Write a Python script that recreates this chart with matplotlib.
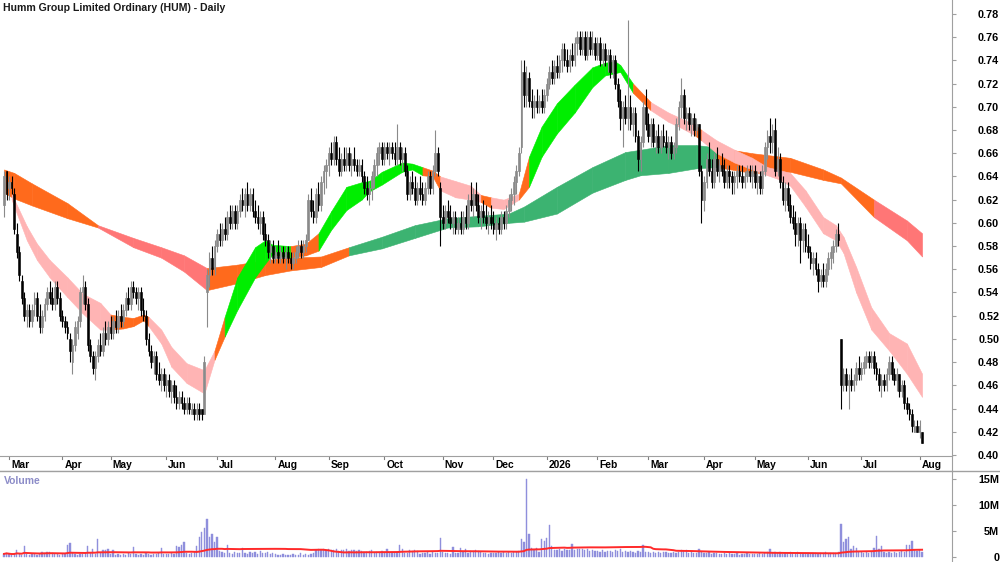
import numpy as np
import pandas as pd
import matplotlib
matplotlib.use("Agg")
import matplotlib.pyplot as plt
from matplotlib.lines import Line2D

plt.rcParams['font.family'] = ['Liberation Sans', 'DejaVu Sans']

title = "Humm Group Limited Ordinary (HUM) - Daily"

# trading days (ASX holidays removed)
holidays = ["2025-04-18", "2025-04-21", "2025-04-25", "2025-06-09", "2025-12-25",
            "2025-12-26", "2026-01-01", "2026-01-26", "2026-04-03", "2026-04-06",
            "2026-06-08"]
dates = pd.bdate_range("2025-02-27", "2026-08-04", freq="C", holidays=holidays)

# daily prices in tenths of a cent (645 = $0.645), one line per month
opens = [
    615, 645,
    630, 635, 625, 590, 575, 550, 535, 520, 525, 515, 530, 535, 520, 510, 520, 530, 540, 535, 530, 545, 535,
    520, 515, 510, 500, 480, 495, 505, 515, 540, 545, 530, 495, 485, 475, 485, 495, 490, 505, 500,
    510, 505, 515, 510, 520, 515, 525, 535, 530, 545, 540, 535, 540, 525, 520, 500, 490, 480, 485, 470, 465, 470,
    460, 465, 455, 460, 450, 445, 450, 445, 440, 445, 435, 440, 435, 440, 440, 435, 540, 555, 570, 560,
    580, 590, 585, 595, 590, 605, 600, 610, 600, 610, 620, 615, 625, 615, 625, 610, 605, 600, 605, 590, 585, 575, 580,
    570, 575, 570, 575, 570, 575, 570, 565, 570, 575, 580, 575, 580, 585, 620, 610, 605, 625, 615, 635, 645,
    650, 660, 655, 670, 655, 645, 655, 650, 660, 650, 655, 650, 645, 650, 640, 630, 625, 630, 640, 650, 660, 665,
    655, 665, 660, 665, 660, 655, 665, 655, 660, 645, 625, 635, 630, 620, 630, 625, 620, 630, 640, 630, 645, 660, 630,
    605, 600, 610, 605, 600, 605, 595, 600, 595, 605, 600, 620, 615, 625, 615, 605, 610, 605, 600, 605,
    600, 595, 600, 595, 605, 600, 610, 620, 625, 635, 645, 665, 730, 710, 725, 705, 700, 705, 700, 705, 700,
    710, 720, 730, 725, 735, 730, 740, 750, 740, 735, 745, 740, 755, 760, 750, 760, 745, 760, 750, 755,
    745, 755, 740, 750, 740, 745, 730, 740, 720, 705, 690, 700, 690, 700, 685, 695, 675, 655, 670, 700,
    685, 675, 685, 670, 675, 665, 675, 670, 665, 670, 660, 665, 685, 700, 710, 690, 695, 685, 690, 680, 685, 645,
    620, 635, 655, 645, 635, 655, 645, 650, 645, 635, 645, 640, 635, 640, 645, 640, 635, 640, 645, 640,
    645, 635, 640, 630, 645, 665, 675, 670, 680, 645, 655, 635, 620, 630, 615, 605, 600, 590, 600, 585, 595,
    580, 575, 565, 570, 560, 550, 555, 550, 560, 570, 575, 580, 590, 500, 460, 470, 460, 465, 460, 465, 475,
    470, 475, 480, 485, 480, 485, 475, 470, 460, 465, 460, 470, 480, 470, 465, 470, 455, 460, 445, 440, 435, 420, 425,
    420, 420,
]
highs = [
    645, 645,
    640, 640, 630, 600, 580, 555, 540, 530, 530, 530, 540, 540, 530, 525, 535, 545, 550, 545, 550, 550, 540,
    525, 520, 515, 505, 500, 515, 520, 545, 555, 550, 535, 500, 490, 490, 500, 505, 510, 515, 515,
    520, 520, 525, 525, 530, 530, 540, 545, 550, 550, 545, 545, 545, 535, 525, 505, 495, 490, 490, 480, 475, 475,
    470, 470, 465, 465, 460, 455, 455, 450, 450, 450, 445, 445, 445, 445, 440, 485, 560, 575, 580, 585,
    595, 600, 600, 605, 610, 615, 615, 615, 615, 625, 630, 630, 635, 630, 630, 620, 615, 610, 610, 600, 590, 585, 585,
    580, 585, 580, 580, 580, 580, 575, 575, 580, 585, 585, 585, 590, 625, 630, 620, 630, 635, 640, 650, 655,
    665, 670, 675, 675, 665, 660, 665, 665, 665, 660, 665, 655, 655, 655, 645, 640, 635, 645, 655, 665, 670, 670,
    670, 670, 670, 670, 670, 685, 670, 665, 665, 650, 640, 645, 640, 635, 640, 635, 635, 645, 645, 650, 680, 665, 635,
    615, 615, 620, 615, 610, 610, 605, 610, 610, 615, 625, 635, 630, 635, 625, 615, 620, 615, 610, 615,
    610, 605, 605, 610, 610, 615, 625, 630, 640, 650, 665, 740, 740, 735, 730, 715, 710, 715, 710, 715, 715,
    725, 735, 740, 740, 745, 745, 755, 755, 750, 750, 755, 760, 765, 765, 765, 765, 765, 765, 765, 760,
    760, 760, 755, 755, 750, 750, 745, 745, 725, 715, 705, 710, 775, 710, 700, 700, 680, 675, 705, 715,
    695, 690, 690, 680, 685, 680, 685, 680, 675, 675, 670, 690, 705, 725, 715, 700, 700, 695, 695, 690, 685, 650,
    640, 660, 670, 655, 660, 665, 655, 660, 655, 650, 650, 645, 645, 650, 650, 650, 645, 650, 650, 650,
    650, 645, 645, 650, 670, 680, 690, 685, 690, 665, 660, 640, 635, 635, 625, 615, 610, 605, 605, 600, 600,
    590, 580, 575, 575, 565, 560, 565, 565, 575, 580, 585, 595, 600, 500, 475, 475, 470, 475, 470, 480, 485,
    480, 485, 490, 490, 490, 490, 480, 475, 470, 470, 475, 485, 485, 475, 475, 470, 465, 465, 450, 445, 440, 430, 430,
    430, 420,
]
lows = [
    605, 620,
    620, 625, 590, 570, 550, 530, 515, 510, 510, 510, 520, 515, 505, 505, 515, 525, 530, 525, 525, 530, 515,
    510, 505, 500, 480, 470, 490, 500, 510, 530, 525, 490, 480, 470, 465, 480, 485, 485, 495, 495,
    500, 500, 505, 505, 510, 510, 520, 525, 525, 535, 530, 525, 520, 515, 495, 485, 475, 470, 465, 460, 455, 455,
    450, 450, 445, 445, 440, 440, 440, 435, 435, 435, 435, 430, 430, 430, 430, 435, 510, 545, 555, 555,
    575, 580, 580, 585, 585, 595, 595, 595, 595, 605, 610, 605, 610, 610, 605, 600, 595, 590, 585, 580, 570, 565, 565,
    565, 565, 565, 565, 560, 565, 560, 560, 565, 570, 570, 570, 575, 585, 605, 600, 600, 610, 610, 625, 630,
    640, 650, 650, 650, 640, 640, 645, 645, 645, 640, 645, 640, 640, 635, 625, 620, 615, 620, 630, 640, 650, 650,
    650, 655, 650, 655, 650, 650, 650, 645, 640, 620, 620, 625, 615, 615, 620, 615, 615, 625, 625, 625, 640, 640, 580,
    595, 595, 600, 595, 590, 590, 590, 590, 590, 595, 595, 610, 605, 610, 600, 595, 600, 595, 590, 595,
    590, 585, 590, 590, 595, 595, 605, 610, 615, 625, 640, 660, 700, 700, 700, 690, 690, 695, 695, 695, 695,
    705, 715, 720, 720, 725, 725, 730, 735, 730, 730, 735, 735, 745, 745, 745, 740, 740, 745, 745, 740,
    740, 735, 735, 735, 730, 725, 725, 715, 700, 680, 665, 685, 680, 680, 675, 670, 645, 645, 665, 680,
    670, 665, 665, 660, 660, 660, 665, 660, 655, 655, 655, 660, 680, 690, 685, 680, 680, 675, 675, 675, 640, 600,
    610, 630, 640, 630, 630, 640, 635, 640, 630, 630, 630, 625, 625, 630, 635, 630, 630, 635, 635, 630,
    630, 625, 625, 625, 640, 655, 660, 660, 640, 640, 630, 615, 610, 610, 600, 595, 580, 580, 565, 575, 575,
    570, 560, 555, 555, 540, 545, 545, 545, 555, 560, 565, 575, 580, 440, 455, 455, 440, 455, 455, 460, 465,
    465, 470, 475, 475, 475, 470, 465, 455, 450, 455, 455, 465, 465, 460, 455, 450, 450, 440, 435, 430, 420, 420, 420,
    415, 410,
]
closes = [
    640, 625,
    635, 630, 595, 575, 555, 535, 520, 525, 515, 525, 535, 520, 510, 520, 530, 540, 535, 530, 545, 535, 520,
    515, 510, 505, 490, 495, 510, 515, 540, 545, 530, 495, 485, 475, 485, 495, 490, 505, 500, 510,
    505, 515, 510, 520, 515, 525, 535, 530, 545, 540, 535, 540, 525, 520, 500, 490, 480, 485, 470, 465, 470, 460,
    465, 455, 460, 450, 445, 450, 445, 440, 445, 440, 440, 435, 440, 435, 435, 480, 555, 570, 560, 580,
    590, 585, 595, 590, 605, 600, 610, 600, 610, 620, 615, 625, 615, 625, 610, 605, 600, 605, 590, 585, 575, 580, 570,
    575, 570, 575, 570, 575, 570, 565, 570, 575, 580, 575, 580, 585, 620, 610, 605, 625, 615, 635, 645, 650,
    660, 655, 670, 655, 645, 655, 650, 660, 650, 655, 650, 645, 650, 640, 630, 625, 630, 640, 650, 660, 665, 655,
    665, 660, 665, 660, 655, 665, 655, 660, 645, 625, 635, 630, 620, 630, 625, 620, 630, 640, 630, 645, 660, 645, 605,
    600, 610, 605, 600, 605, 595, 600, 595, 605, 600, 620, 615, 625, 615, 605, 610, 605, 600, 605, 600,
    595, 600, 595, 605, 600, 610, 620, 625, 635, 645, 660, 730, 710, 725, 705, 700, 705, 700, 705, 700, 710,
    720, 730, 725, 735, 730, 740, 750, 740, 735, 745, 740, 755, 760, 750, 760, 745, 760, 750, 755, 745,
    755, 740, 750, 740, 745, 730, 740, 720, 705, 690, 700, 690, 700, 685, 695, 675, 655, 670, 700, 685,
    675, 685, 670, 675, 665, 675, 670, 665, 670, 660, 665, 685, 700, 710, 690, 695, 685, 690, 680, 685, 645, 620,
    635, 655, 645, 635, 655, 645, 650, 645, 635, 645, 640, 635, 640, 645, 640, 635, 640, 645, 640, 645,
    635, 640, 630, 645, 665, 675, 670, 680, 645, 655, 635, 620, 630, 615, 605, 600, 590, 600, 585, 595, 580,
    575, 565, 570, 560, 550, 555, 550, 560, 570, 575, 580, 590, 585, 460, 470, 460, 465, 460, 465, 475, 470,
    475, 480, 485, 480, 485, 475, 470, 460, 465, 460, 470, 480, 470, 465, 470, 455, 460, 445, 440, 435, 425, 425, 420,
    425, 410,
]
# daily volume in units of 100,000 shares
volume = [
    6, 8,
    5, 4, 6, 13, 5, 4, 21, 5, 4, 6, 5, 4, 6, 10, 8, 10, 9, 8, 5, 6, 4,
    5, 6, 23, 27, 7, 5, 4, 6, 5, 7, 22, 8, 15, 6, 34, 7, 13, 14, 16,
    5, 13, 4, 6, 4, 5, 4, 7, 6, 20, 5, 4, 6, 4, 7, 5, 4, 6, 5, 7, 18, 6,
    6, 5, 7, 6, 21, 20, 23, 29, 7, 6, 8, 10, 21, 38, 49, 55, 73, 38, 44, 29,
    39, 11, 9, 8, 23, 7, 6, 9, 8, 7, 18, 8, 6, 10, 7, 9, 6, 11, 8, 7, 9, 6, 8,
    5, 4, 3, 5, 4, 3, 4, 5, 3, 4, 8, 4, 5, 3, 6, 8, 14, 15, 13, 15, 14,
    15, 13, 14, 15, 12, 14, 13, 15, 12, 13, 14, 11, 13, 12, 10, 9, 11, 13, 8, 10, 9, 11,
    9, 16, 8, 10, 7, 9, 23, 16, 8, 7, 13, 12, 13, 11, 6, 8, 7, 9, 6, 10, 8, 7, 36,
    9, 7, 8, 6, 20, 8, 7, 18, 9, 15, 8, 12, 11, 13, 12, 9, 7, 8, 6, 7,
    8, 7, 9, 8, 10, 7, 9, 8, 10, 9, 11, 35, 29, 150, 44, 18, 13, 18, 10, 34, 31,
    36, 61, 21, 14, 13, 15, 12, 16, 13, 14, 25, 13, 16, 15, 16, 14, 16, 12, 13, 11,
    12, 10, 13, 9, 11, 12, 10, 13, 11, 16, 10, 12, 9, 11, 10, 8, 12, 9, 23, 10,
    9, 8, 10, 7, 9, 8, 10, 9, 7, 8, 9, 8, 10, 13, 12, 13, 8, 9, 7, 8, 15, 9,
    8, 7, 9, 6, 8, 7, 5, 6, 8, 5, 7, 6, 5, 7, 4, 6, 5, 7, 6, 5,
    6, 5, 7, 6, 8, 9, 16, 8, 10, 7, 10, 6, 8, 7, 9, 8, 7, 9, 8, 6, 7,
    7, 6, 8, 7, 6, 8, 7, 9, 6, 8, 7, 8, 10, 63, 29, 34, 39, 15, 21, 18, 10,
    9, 8, 10, 7, 9, 18, 40, 16, 21, 9, 8, 10, 7, 9, 8, 10, 12, 9, 23, 23, 31, 13, 12,
    13, 9,
]

# short-term ribbon edges (bar index, upper, lower) and state per stretch
fast_x = [3, 9, 13, 18, 25, 31, 38, 42, 47, 51, 55, 57, 62, 66, 72, 79, 83, 87, 92, 99,
          103, 106, 113, 119, 124, 129, 135, 141, 144, 149, 157, 161, 165, 169, 172, 178, 184, 188, 192, 197,
          203, 207, 212, 218, 225, 232, 237, 241, 243, 248, 255, 262, 266, 272, 275, 281, 288, 295, 301, 305,
          310, 316, 323, 328, 331, 336, 342, 349, 356, 362]
fast_hi = [625, 597, 582, 568, 553, 539, 531, 521, 519, 518, 521, 519, 508, 493, 479, 473, 490, 519, 553, 579,
           585, 581, 580, 582, 591, 610, 631, 635, 636, 644, 652, 651, 648, 645, 640, 636, 632, 624, 622, 620,
           625, 657, 683, 703, 719, 734, 738, 739, 736, 720, 704, 695, 691, 685, 680, 671, 663, 656, 648, 646,
           643, 628, 605, 598, 588, 562, 527, 505, 496, 470]
fast_lo = [620, 585, 568, 553, 536, 522, 508, 508, 509, 511, 516, 511, 496, 476, 462, 453, 482, 502, 525, 553,
           565, 573, 570, 572, 576, 594, 611, 620, 627, 633, 644, 646, 641, 640, 628, 622, 620, 618, 613, 612,
           620, 631, 657, 677, 695, 717, 727, 729, 730, 712, 697, 687, 683, 676, 671, 660, 652, 646, 641, 638,
           632, 614, 591, 585, 574, 540, 508, 490, 470, 450]
fast_state = list("pppppppoooopppppogggggooggggggggoopppoppoggggggggopppopppppppppppppppp")

# long-term ribbon
slow_x = [0, 4, 11, 25, 37, 51, 62, 71, 80, 92, 103, 113, 125, 136, 149, 162, 175, 187, 199, 205,
          218, 232, 245, 251, 262, 273, 281, 295, 310, 323, 330, 343, 356, 362]
slow_hi = [646, 643, 634, 617, 598, 587, 579, 572, 561, 564, 568, 570, 571, 579, 588, 598, 604, 606, 608, 614,
           631, 648, 661, 663, 667, 667, 665, 660, 656, 646, 639, 620, 602, 591]
slow_lo = [626, 621, 615, 604, 596, 579, 570, 558, 542, 548, 555, 559, 562, 572, 578, 587, 596, 597, 600, 601,
           608, 626, 637, 641, 643, 647, 648, 643, 644, 637, 634, 605, 585, 571]
slow_state = list("oooorrrrooooodddddddddddddooooorrr")[:33]

state_colors = {"p": "#ffb4b4", "o": "#ff6a1c", "g": "#00ee00", "d": "#3cb371", "r": "#ff7676"}

n = len(closes)
for name, arr in [("opens", opens), ("highs", highs), ("lows", lows), ("volume", volume)]:
    if len(arr) != n:
        raise SystemExit(f"{name} has {len(arr)} values, closes has {n}")
if len(dates) != n:
    raise SystemExit(f"dates {len(dates)} vs bars {n}")

o = np.array(opens) / 1000
h = np.array(highs) / 1000
l = np.array(lows) / 1000
c = np.array(closes) / 1000
vol = np.array(volume) * 1e5
vol_avg = pd.Series(vol).rolling(50, min_periods=1).mean()
x = np.arange(n)

fig = plt.figure(figsize=(10, 5.62), dpi=100)
ax = fig.add_axes([0, 1 - 456 / 562, 0.952, 456 / 562])
axd = fig.add_axes([0, 1 - 471 / 562, 0.952, 15 / 562])
axv = fig.add_axes([0, 0, 0.952, 1 - 471 / 562])

xlim = (-1.58, 373.8)
grey = "#a0a0a0"

# ribbons
def ribbon(xs, hi, lo, states):
    for k in range(len(xs) - 1):
        col = state_colors[states[k]]
        ax.fill_between(xs[k:k + 2], np.array(hi[k:k + 2]) / 1000, np.array(lo[k:k + 2]) / 1000,
                        color=col, lw=0.4, edgecolor=col)

ribbon(slow_x, slow_hi, slow_lo, slow_state)
ribbon(fast_x, fast_hi, fast_lo, fast_state)

# candles
up = c >= o
bottom = np.minimum(o, c)
height = np.maximum(np.abs(c - o), 0.0015)
ax.vlines(x[up], l[up], h[up], color="#8a8a8a", lw=0.8)
ax.vlines(x[~up], l[~up], h[~up], color="black", lw=0.8)
ax.bar(x[up], height[up], bottom=bottom[up], width=0.68, facecolor="white", edgecolor="#8a8a8a", lw=0.6)
ax.bar(x[~up], height[~up], bottom=bottom[~up], width=0.68, facecolor="black", edgecolor="black", lw=0.4)

ax.set_xlim(*xlim)
ax.set_ylim(0.3991, 0.792)
for s in ["top", "left", "bottom"]:
    ax.spines[s].set_visible(False)
ax.spines["right"].set_color(grey)
ax.set_xticks([])
ax.yaxis.tick_right()
yt = np.round(np.arange(0.40, 0.7801, 0.02), 2)
ax.set_yticks(yt)
ax.set_yticklabels([f"{v:.2f}" for v in yt])
ax.tick_params(axis="y", direction="out", length=3, color=grey, pad=31, labelsize=7.8)
for lab in ax.get_yticklabels():
    lab.set_horizontalalignment("right")
    lab.set_fontweight("bold")

# date strip
axd.set_xlim(*xlim)
axd.set_ylim(0, 1)
axd.set_xticks([])
axd.set_yticks([])
axd.spines["left"].set_visible(False)
for s in ["top", "bottom", "right"]:
    axd.spines[s].set_color(grey)
month = dates.month
starts = [i for i in range(1, n) if month[i] != month[i - 1]]
for i in starts:
    d = dates[i]
    label = str(d.year) if d.month == 1 else d.strftime("%b")
    axd.plot([i, i], [1, 0.78], color="#808080", lw=0.8)
    axd.text(i + 0.8, 0.42, label, ha="left", va="center", fontsize=7.4, fontweight="bold")

# volume
axv.bar(x, vol, width=0.5, color="#8f8fdc", edgecolor="#8f8fdc", lw=0.3)
axv.plot(x, vol_avg, color="#ff2a2a", lw=1.4)
axv.set_xlim(*xlim)
axv.set_ylim(-0.96e6, 16.54e6)
for s in ["top", "left", "bottom"]:
    axv.spines[s].set_visible(False)
axv.spines["right"].set_color(grey)
axv.set_xticks([])
axv.yaxis.tick_right()
axv.set_yticks([0, 5e6, 10e6, 15e6])
axv.set_yticklabels(["0", "5M", "10M", "15M"])
axv.tick_params(axis="y", direction="out", length=3, color=grey, pad=31, labelsize=7.8)
for lab in axv.get_yticklabels():
    lab.set_horizontalalignment("right")
    lab.set_fontweight("bold")

fig.add_artist(Line2D([0, 1], [1 - 471 / 562, 1 - 471 / 562], color=grey, lw=1))
fig.text(0.003, 1 - 8 / 562, title, ha="left", va="center", fontsize=7.6, fontweight="bold", color="#1a1a1a")
fig.text(0.004, 1 - 481 / 562, "Volume", ha="left", va="center", fontsize=7.5, fontweight="bold", color="#8c8cc8")

fig.savefig("out.png", dpi=100)
